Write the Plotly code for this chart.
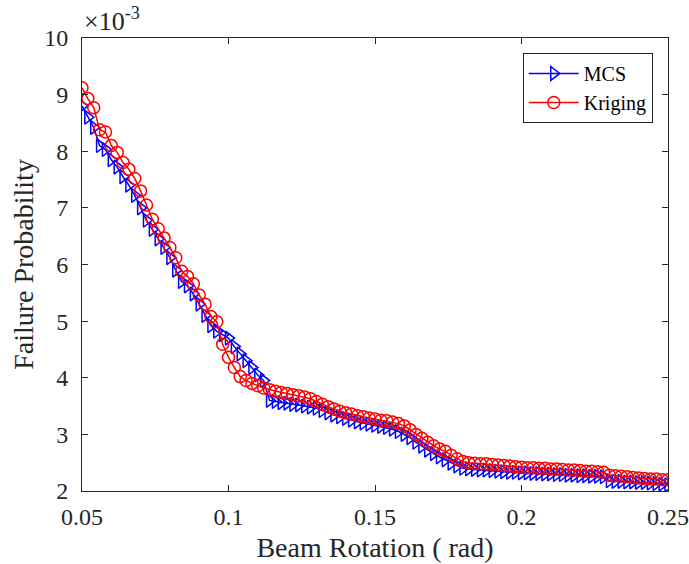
import plotly.graph_objects as go

rotation = [0.050, 0.052, 0.054, 0.056, 0.058, 0.060, 0.062, 0.064, 0.066, 0.068,
            0.070, 0.072, 0.074, 0.076, 0.078, 0.080, 0.082, 0.084, 0.086, 0.088,
            0.090, 0.092, 0.094, 0.096, 0.098, 0.100, 0.102, 0.104, 0.106, 0.108,
            0.110, 0.112, 0.114, 0.116, 0.118, 0.120, 0.122, 0.124, 0.126, 0.128,
            0.130, 0.132, 0.134, 0.136, 0.138, 0.140, 0.142, 0.144, 0.146, 0.148,
            0.150, 0.152, 0.154, 0.156, 0.158, 0.160, 0.162, 0.164, 0.166, 0.168,
            0.170, 0.172, 0.174, 0.176, 0.178, 0.180, 0.182, 0.184, 0.186, 0.188,
            0.190, 0.192, 0.194, 0.196, 0.198, 0.200, 0.202, 0.204, 0.206, 0.208,
            0.210, 0.212, 0.214, 0.216, 0.218, 0.220, 0.222, 0.224, 0.226, 0.228,
            0.230, 0.232, 0.234, 0.236, 0.238, 0.240, 0.242, 0.244, 0.246, 0.248,
            0.250]

mcs = [8.80, 8.60, 8.42, 8.10, 8.03, 7.85, 7.72, 7.55, 7.40, 7.22,
       7.00, 6.78, 6.62, 6.45, 6.30, 6.12, 5.90, 5.70, 5.62, 5.48,
       5.30, 5.10, 4.92, 4.82, 4.76, 4.70, 4.55, 4.42, 4.30, 4.18,
       4.05, 3.95, 3.60, 3.58, 3.56, 3.55, 3.53, 3.52, 3.50, 3.48,
       3.46, 3.42, 3.38, 3.34, 3.31, 3.28, 3.25, 3.22, 3.20, 3.18,
       3.16, 3.14, 3.12, 3.09, 3.05, 3.00, 2.94, 2.86, 2.79, 2.72,
       2.66, 2.60, 2.55, 2.49, 2.44, 2.40, 2.39, 2.38, 2.37, 2.37,
       2.36, 2.35, 2.34, 2.33, 2.33, 2.32, 2.32, 2.31, 2.31, 2.30,
       2.30, 2.29, 2.29, 2.28, 2.28, 2.27, 2.27, 2.26, 2.26, 2.25,
       2.18, 2.17, 2.17, 2.16, 2.16, 2.15, 2.15, 2.14, 2.13, 2.12,
       2.11]

kriging = [9.12, 8.93, 8.77, 8.38, 8.34, 8.10, 7.98, 7.80, 7.68, 7.52,
           7.30, 7.05, 6.80, 6.63, 6.47, 6.30, 6.12, 5.88, 5.79, 5.66,
           5.46, 5.30, 5.08, 4.99, 4.59, 4.36, 4.18, 4.02, 3.95, 3.90,
           3.86, 3.82, 3.79, 3.76, 3.74, 3.72, 3.70, 3.68, 3.66, 3.63,
           3.58, 3.53, 3.49, 3.45, 3.41, 3.38, 3.36, 3.33, 3.31, 3.29,
           3.27, 3.25, 3.24, 3.22, 3.19, 3.15, 3.08, 3.00, 2.93, 2.86,
           2.80, 2.74, 2.70, 2.63, 2.57, 2.52, 2.50, 2.49, 2.48, 2.48,
           2.47, 2.46, 2.45, 2.44, 2.43, 2.42, 2.41, 2.41, 2.40, 2.40,
           2.39, 2.39, 2.38, 2.37, 2.37, 2.36, 2.35, 2.35, 2.34, 2.33,
           2.28, 2.27, 2.26, 2.25, 2.24, 2.23, 2.22, 2.21, 2.21, 2.20,
           2.20]

x_ticks = [0.05, 0.1, 0.15, 0.2, 0.25]
x_tick_labels = ["0.05", "0.1", "0.15", "0.2", "0.25"]
y_ticks = [2, 3, 4, 5, 6, 7, 8, 9, 10]
y_tick_labels = ["2", "3", "4", "5", "6", "7", "8", "9", "10"]

FONT = "Liberation Serif, Times New Roman, serif"
INK = "#262626"

fig = go.Figure()
fig.add_trace(go.Scatter(
    x=rotation, y=mcs, name="MCS", mode="lines+markers",
    line=dict(color="#0000FF", width=1.5),
    marker=dict(symbol="triangle-right-open", size=12, color="#0000FF",
                line=dict(width=1.5, color="#0000FF")),
))
fig.add_trace(go.Scatter(
    x=rotation, y=kriging, name="Kriging", mode="lines+markers",
    line=dict(color="#FF0000", width=1.5),
    marker=dict(symbol="circle-open", size=12, color="#FF0000",
                line=dict(width=1.5, color="#FF0000")),
))

axis_common = dict(
    showgrid=False, zeroline=False, showline=True, linecolor=INK,
    linewidth=1, mirror="ticks", ticks="inside", ticklen=6,
    tickcolor=INK, tickwidth=1, automargin=False,
    tickfont=dict(family=FONT, size=24, color=INK),
)

fig.update_layout(
    width=689, height=564,
    margin=dict(l=82, r=21, t=38, b=73),
    paper_bgcolor="white", plot_bgcolor="white",
    font=dict(family=FONT, color=INK),
    showlegend=True,
    legend=dict(
        x=0.974, y=0.967, xanchor="right", yanchor="top",
        bgcolor="white", bordercolor=INK, borderwidth=1,
        font=dict(family=FONT, size=20, color="black"),
        tracegroupgap=0, itemwidth=50,
    ),
    xaxis=dict(
        range=[0.05, 0.25], tickvals=x_ticks, ticktext=x_tick_labels,
        ticklabelstandoff=4,
        title=dict(text="Beam Rotation ( rad)", font=dict(family=FONT, size=28, color=INK),
                   standoff=8),
        **axis_common,
    ),
    yaxis=dict(
        range=[2, 10], tickvals=y_ticks, ticktext=y_tick_labels,
        ticklabelstandoff=8,
        title=dict(text="Failure Probability", font=dict(family=FONT, size=28, color=INK),
                   standoff=2),
        **axis_common,
    ),
    annotations=[dict(
        text="×10<sup>-3</sup>", xref="paper", yref="paper", x=0.0, y=1.0,
        xanchor="left", yanchor="bottom", showarrow=False,
        font=dict(family=FONT, size=26, color=INK),
    )],
)

fig.write_html("out.html", config={"displayModeBar": False},
               post_script="document.body.style.margin='0';")
